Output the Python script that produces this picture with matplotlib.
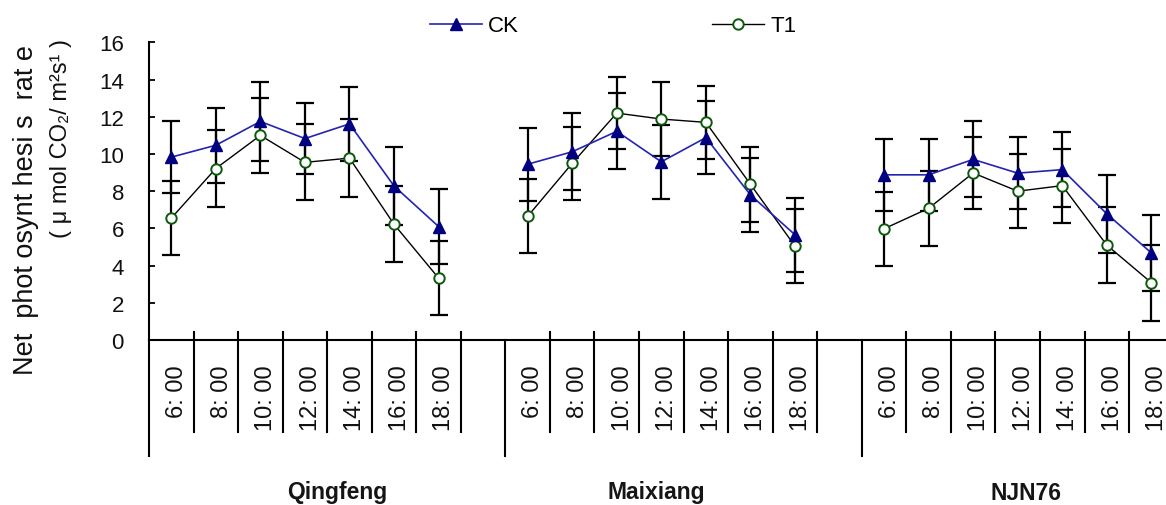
import matplotlib
matplotlib.use("Agg")
import matplotlib.pyplot as plt
from matplotlib.lines import Line2D
import numpy as np

# ---------------- data ----------------
groups = ["Qingfeng", "Maixiang", "NJN76"]
times = ["6: 00", "8: 00", "10: 00", "12: 00", "14: 00", "16: 00", "18: 00"]

ck_qingfeng = [9.83, 10.47, 11.75, 10.83, 11.62, 8.28, 6.10]
ck_maixiang = [9.45, 10.12, 11.22, 9.58, 10.88, 7.80, 5.66]
ck_njn76 = [8.88, 8.88, 9.71, 8.97, 9.16, 6.78, 4.68]
ck_err_qingfeng = [1.93, 2.02, 2.12, 1.93, 1.98, 2.10, 2.00]
ck_err_maixiang = [1.97, 2.08, 2.05, 2.00, 1.95, 1.97, 2.00]
ck_err_njn76 = [1.93, 1.95, 2.04, 1.94, 2.02, 2.10, 2.05]

t1_qingfeng = [6.55, 9.22, 11.00, 9.55, 9.78, 6.22, 3.33]
t1_maixiang = [6.65, 9.50, 12.20, 11.88, 11.70, 8.37, 5.05]
t1_njn76 = [5.98, 7.08, 8.98, 8.00, 8.30, 5.10, 3.08]
t1_err_qingfeng = [2.00, 2.05, 2.00, 2.05, 2.08, 2.05, 2.00]
t1_err_maixiang = [1.98, 1.97, 1.95, 2.00, 1.95, 2.00, 1.97]
t1_err_njn76 = [2.00, 2.02, 1.94, 1.99, 1.99, 2.05, 2.05]

ck_means = [ck_qingfeng, ck_maixiang, ck_njn76]
ck_errs = [ck_err_qingfeng, ck_err_maixiang, ck_err_njn76]
t1_means = [t1_qingfeng, t1_maixiang, t1_njn76]
t1_errs = [t1_err_qingfeng, t1_err_maixiang, t1_err_njn76]

yticks = [0, 2, 4, 6, 8, 10, 12, 14, 16]

# ---------------- figure ----------------
W, H = 1166, 506
fig = plt.figure(figsize=(W / 100, H / 100), dpi=100)
fig.patch.set_facecolor("white")

slot = 8                      # 7 time points + 1 empty slot per group
ncat = slot * len(groups)
cat_px = 44.55
ax_left, ax_bottom_px, ax_top_px = 149, 341, 43.4
ax = fig.add_axes([ax_left / W, 1 - ax_bottom_px / H,
                   ncat * cat_px / W, (ax_bottom_px - ax_top_px) / H])
ax_h_px = ax_bottom_px - ax_top_px

ax.set_xlim(0, ncat)
ax.set_ylim(0, 16)

font_sans = "Liberation Sans"

ck_line_color = "#2424B0"
ck_marker_color = "#000080"
t1_marker_edge = "#0B5A0B"

for g in range(len(groups)):
    xs = np.arange(len(times)) + g * slot + 0.5
    ax.errorbar(xs, ck_means[g], yerr=ck_errs[g], fmt="none", ecolor="black",
                elinewidth=1.6, capsize=6.5, capthick=1.6, zorder=2, clip_on=False)
    ax.errorbar(xs, t1_means[g], yerr=t1_errs[g], fmt="none", ecolor="black",
                elinewidth=1.6, capsize=6.5, capthick=1.6, zorder=2, clip_on=False)
    l_t1, = ax.plot(xs, t1_means[g], color="black", lw=1.0, marker="o", ms=7.5,
                    mfc="white", mec=t1_marker_edge, mew=1.4, zorder=3, clip_on=False)
    l_ck, = ax.plot(xs, ck_means[g], color=ck_line_color, lw=1.2, marker="^", ms=9,
                    mfc=ck_marker_color, mec=ck_marker_color, zorder=4, clip_on=False)

# spines / ticks
for s in ["top", "right"]:
    ax.spines[s].set_visible(False)
for s in ["left", "bottom"]:
    ax.spines[s].set_linewidth(1.5)
    ax.spines[s].set_color("black")

ax.set_yticks(yticks)
ax.set_yticklabels([str(v) for v in yticks], fontsize=16, family=font_sans, color="#111111")
ax.tick_params(axis="y", direction="in", length=4.5, width=1.3, pad=18)
ax.set_xticks([])

# category separators and group boundaries
xt = ax.get_xaxis_transform()
sep_top = 8 / ax_h_px
sep_bot = -(433 - ax_bottom_px) / ax_h_px
grp_bot = -(457 - ax_bottom_px) / ax_h_px
for k in range(0, ncat + 1):
    if k % slot == 0:
        ax.plot([k, k], [0, grp_bot], transform=xt, color="black", lw=1.5,
                clip_on=False, zorder=1)
    else:
        ax.plot([k, k], [sep_top, sep_bot], transform=xt, color="black", lw=1.5,
                clip_on=False, zorder=1)

# category labels
lab_top = -(365 - ax_bottom_px) / ax_h_px
for g in range(len(groups)):
    for i, t in enumerate(times):
        ax.text(g * slot + i + 0.5 + 0.13, lab_top, t, transform=xt, rotation=90,
                ha="center", va="top", fontsize=17, family=font_sans, color="#111111",
                clip_on=False)

# group labels
grp_y = -(493 - ax_bottom_px) / ax_h_px
grp_x_px = [337, 656, 1026]
for name, px in zip(groups, grp_x_px):
    ax.text((px - ax_left) / cat_px, grp_y, name, transform=xt, ha="center", va="center",
            fontsize=16.5, fontweight="bold", family=font_sans, color="#151515",
            clip_on=False)

# y label (two lines)
fig.text(26 / W, 1 - 210 / H, "Net  phot osynt hesi s  rat e", rotation=90,
         ha="center", va="center", fontsize=19.5, family=[font_sans, "DejaVu Sans"],
         color="#111111")
fig.text(61 / W, 1 - 139 / H, "( μ mol CO₂/ m²s¹ )", rotation=90,
         ha="center", va="center", fontsize=17, family=[font_sans, "DejaVu Sans"],
         color="#111111")

# legend
h_ck = Line2D([], [], color=ck_line_color, lw=1.2, marker="^", ms=9,
              mfc=ck_marker_color, mec=ck_marker_color)
h_t1 = Line2D([], [], color="black", lw=1.0, marker="o", ms=7.5,
              mfc="white", mec=t1_marker_edge, mew=1.4)
fig.legend([h_ck, h_t1], ["CK", "T1"], loc="center left",
           bbox_to_anchor=(430 / W, 1 - 27 / H), ncol=2, frameon=False,
           handlelength=2.34, handletextpad=0.27, columnspacing=8.7,
           borderpad=0, borderaxespad=0,
           prop={"family": font_sans, "size": 16})

fig.savefig("out.png", dpi=100)
